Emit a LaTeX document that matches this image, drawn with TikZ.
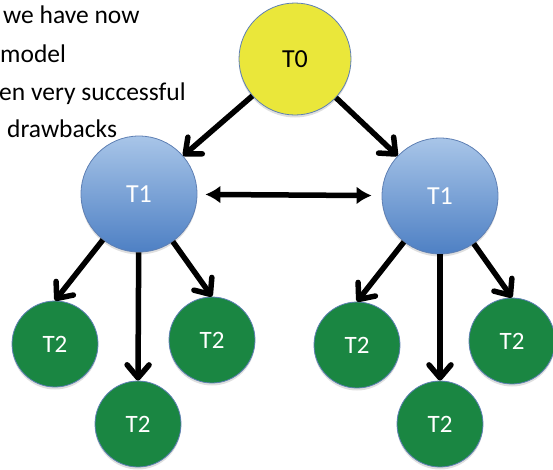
\documentclass[tikz,border=0pt]{standalone}
\usepackage{fontspec}
\setmainfont{Carlito}
\usetikzlibrary{arrows.meta,shadows}
\definecolor{rootyellow}{RGB}{234,231,58}
\definecolor{midtop}{RGB}{168,197,232}
\definecolor{midbottom}{RGB}{78,128,196}
\definecolor{leafgreen}{RGB}{26,134,66}
\definecolor{rimblue}{RGB}{95,128,180}
\tikzset{
  task/.style={circle, inner sep=0pt, draw=rimblue, line width=0.8pt,
    drop shadow={opacity=0.25, shadow xshift=0pt, shadow yshift=-2.5pt}},
  roottask/.style={task, minimum size=112pt, fill=rootyellow, text=black,
    font=\fontsize{26}{30}\selectfont},
  midtask/.style={task, minimum size=116pt, top color=midtop, bottom color=midbottom,
    text=white, font=\fontsize{26}{30}\selectfont},
  leaftask/.style={task, minimum size=86pt, fill=leafgreen, text=white,
    font=\fontsize{25}{30}\selectfont},
  spawn/.style={line width=5.5pt, -{Straight Barb[length=13pt, width=22pt, round]}},
  peer/.style={line width=5.5pt, {Latex[length=15pt, width=18pt]}-{Latex[length=15pt, width=18pt]},
    shorten <=8pt, shorten >=10pt},
  bullet/.style={anchor=base west, inner sep=0pt, font=\fontsize{25.5}{30}\selectfont}
}
\begin{document}
\begin{tikzpicture}[x=1pt,y=-1pt]
  \useasboundingbox (0,0) rectangle (553,469);
  \node[bullet] (line1) at (3,23) {we have now};
  \node[bullet] (line2) at (0,62) {model};
  \node[bullet] (line3) at (-1,100) {en very successful};
  \node[bullet] (line4) at (7,137) {drawbacks};

  \node[roottask] (t0) at (295,59) {T0};
  \node[midtask] (t1l) at (139,194) {T1};
  \node[midtask] (t1r) at (440,196) {T1};
  \node[leaftask] (t2la) at (55,344) {T2};
  \node[leaftask] (t2lb) at (138,424) {T2};
  \node[leaftask] (t2lc) at (212,340) {T2};
  \node[leaftask] (t2ra) at (357,345) {T2};
  \node[leaftask] (t2rb) at (440,424) {T2};
  \node[leaftask] (t2rc) at (512,341) {T2};

  \draw[spawn] (t0) -- (t1l);
  \draw[spawn] (t0) -- (t1r);
  \draw[spawn] (t1l) -- (t2la.north);
  \draw[spawn] (t1l) -- (t2lb.north);
  \draw[spawn] (t1l) -- (t2lc.north);
  \draw[spawn] (t1r) -- (t2ra.north);
  \draw[spawn] (t1r) -- (t2rb.north);
  \draw[spawn] (t1r) -- (t2rc.north);
  \draw[peer] (t1l) -- (t1r);
\end{tikzpicture}
\end{document}
